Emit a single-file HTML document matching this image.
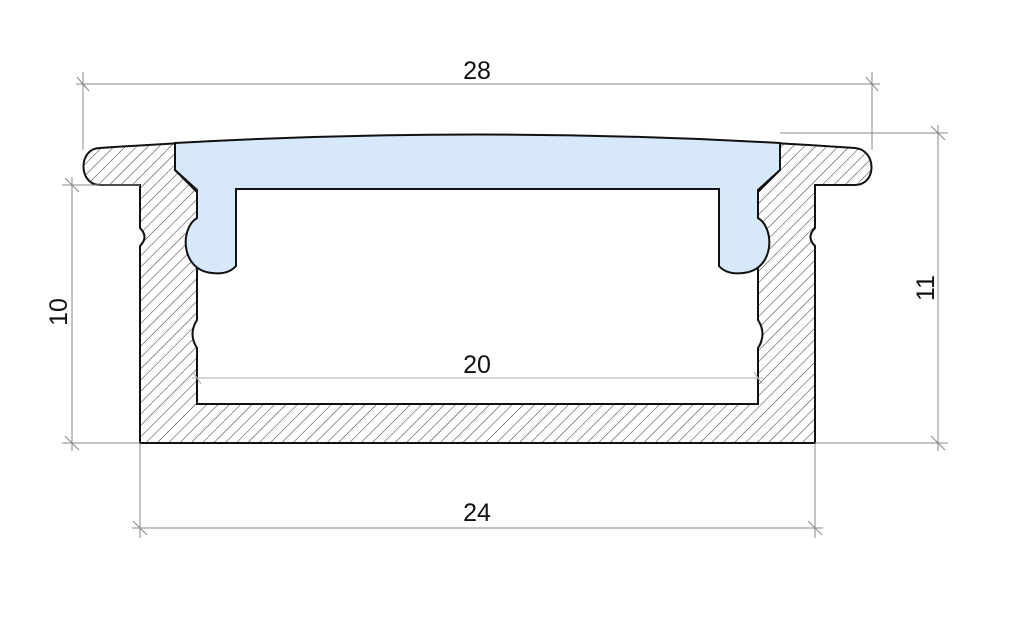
<!DOCTYPE html>
<html><head><meta charset="utf-8"><style>html,body{margin:0;padding:0;background:#fff;width:1024px;height:620px;overflow:hidden}</style></head>
<body>
<svg width="1024" height="620" viewBox="0 0 1024 620" xmlns="http://www.w3.org/2000/svg">
<defs>
<pattern id="h" patternUnits="userSpaceOnUse" width="8" height="8" patternTransform="rotate(45)">
<rect width="8" height="8" fill="#fff"/>
<line x1="0" y1="0" x2="0" y2="8" stroke="#333" stroke-width="1"/>
</pattern>
</defs>
<!-- profile -->
<path d="M100,148 Q477,122 855,148 C877,150 877,185 855,185 L815,185 L815,228 Q806,237 815,246 L815,443 L140,443 L140,246 Q149,237 140,228 L140,185 L100,185 C78,185 78,148 100,148 Z" fill="url(#h)" stroke="#111" stroke-width="2"/>
<path d="M175,160 L175,170 L197,192 L197,320 Q188,334 197,348 L197,404 L758,404 L758,348 Q767,334 758,320 L758,192 L780,170 L780,160 Z" fill="#fff" stroke="#111" stroke-width="2"/>
<!-- lens -->
<path d="M175,143 Q477,126 780,143 L780,170 L758,190 L758,218 C775,228 775,270 743,273 Q727,275 719,266 L719,189 L236,189 L236,266 Q228,275 212,273 C180,270 180,228 197,218 L197,190 L175,170 Z" fill="#d6e8fa" stroke="#111" stroke-width="2"/>
<!-- dimension lines -->
<g stroke="#888" stroke-width="1" fill="none">
<line x1="83" y1="72" x2="83" y2="150"/><line x1="872" y1="72" x2="872" y2="150"/>
<line x1="76" y1="84" x2="880" y2="84"/>
<line x1="77" y1="77" x2="89" y2="91"/><line x1="866" y1="77" x2="878" y2="91"/>
<line x1="780" y1="133" x2="948" y2="133"/><line x1="815" y1="443" x2="948" y2="443"/>
<line x1="938" y1="125" x2="938" y2="451"/>
<line x1="931" y1="126" x2="945" y2="140"/><line x1="931" y1="436" x2="945" y2="450"/>
<line x1="62" y1="185" x2="140" y2="185"/><line x1="62" y1="443" x2="140" y2="443"/>
<line x1="72" y1="177" x2="72" y2="451"/>
<line x1="65" y1="178" x2="79" y2="192"/><line x1="65" y1="436" x2="79" y2="450"/>
<line x1="140" y1="443" x2="140" y2="538"/><line x1="815" y1="443" x2="815" y2="538"/>
<line x1="132" y1="528" x2="823" y2="528"/>
<line x1="133" y1="521" x2="147" y2="535"/><line x1="808" y1="521" x2="822" y2="535"/>
</g>
<g stroke="#aaa" stroke-width="1">
<line x1="192" y1="378" x2="763" y2="378"/>
<line x1="193" y1="372" x2="201" y2="384"/><line x1="754" y1="372" x2="762" y2="384"/>
</g>
<g font-family="Liberation Sans, sans-serif" font-size="25" fill="#111" text-anchor="middle">
<text x="477" y="79">28</text>
<text x="477" y="373">20</text>
<text x="477" y="521">24</text>
<text transform="translate(67,312) rotate(-90)">10</text>
<text transform="translate(934,288) rotate(-90)">11</text>
</g>
</svg>
</body></html>
